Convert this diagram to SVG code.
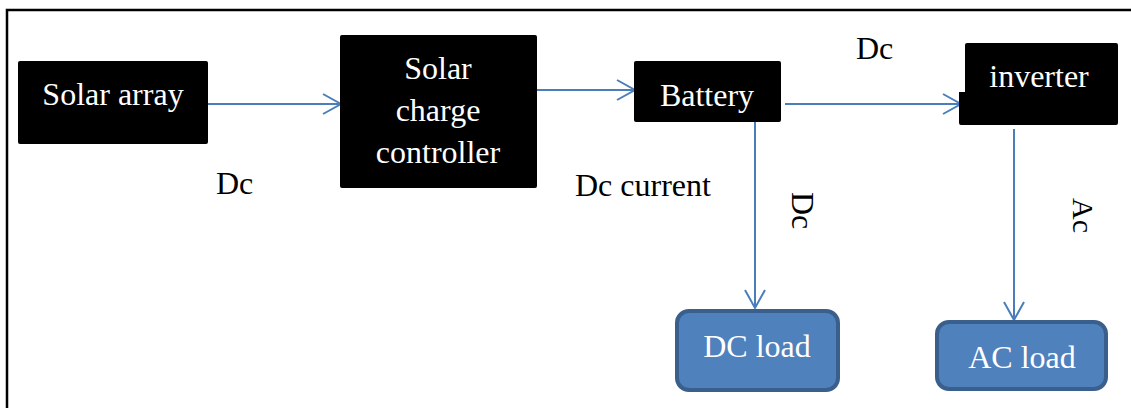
<svg xmlns="http://www.w3.org/2000/svg" width="1131" height="408" viewBox="0 0 1131 408">
<style>
.blk{fill:#000000;}
.t{font-family:"Liberation Serif","Times New Roman",serif;font-size:32px;}
.w{fill:#ffffff;}
.k{fill:#000000;}
.load{fill:#4F81BD;stroke:#3A5F8C;stroke-width:4;}
.conn{stroke:#4A7EBB;stroke-width:2;fill:none;}
</style>
<defs>
<marker id="arr" markerUnits="userSpaceOnUse" markerWidth="24" markerHeight="24" viewBox="-20 -12 24 24" refX="0" refY="0" orient="auto">
<path d="M-18,-10 L0,0 L-18,10" fill="none" stroke="#4A7EBB" stroke-width="2"/>
</marker>
</defs>
<rect width="1131" height="408" fill="#ffffff"/>
<g id="frame">
<path d="M1131,10 H7 V408" fill="none" stroke="#000000" stroke-width="2.5"/>
</g>
<g id="connectors">
<line class="conn" x1="207" y1="104" x2="341" y2="104" marker-end="url(#arr)"/>
<line class="conn" x1="536" y1="90" x2="635" y2="90" marker-end="url(#arr)"/>
<line class="conn" x1="785" y1="104" x2="961" y2="104" marker-end="url(#arr)"/>
<line class="conn" x1="755" y1="121" x2="755" y2="308" marker-end="url(#arr)"/>
<line class="conn" x1="1014" y1="129" x2="1014" y2="320" marker-end="url(#arr)"/>
</g>
<g id="solar-array">
<rect class="blk" x="18" y="61" width="190" height="83" rx="2"/>
<text class="t w" x="113" y="105" text-anchor="middle">Solar array</text>
</g>
<g id="charge-controller">
<rect class="blk" x="340" y="35" width="197" height="153" rx="2"/>
<text class="t w" x="438" y="79" text-anchor="middle">Solar</text>
<text class="t w" x="438" y="121" text-anchor="middle">charge</text>
<text class="t w" x="438" y="163" text-anchor="middle">controller</text>
</g>
<g id="battery">
<rect class="blk" x="634" y="61" width="147" height="61" rx="2"/>
<text class="t w" x="707" y="106" text-anchor="middle">Battery</text>
</g>
<g id="inverter">
<path class="blk" d="M967,43 H1116 Q1118,43 1118,45 V123 Q1118,125 1116,125 H961 Q959,125 959,123 V92 H965 V45 Q965,43 967,43 Z"/>
<text class="t w" x="1039" y="87" text-anchor="middle">inverter</text>
</g>
<g id="dc-load">
<rect class="load" x="677" y="311" width="161" height="79" rx="12"/>
<text class="t w" x="757" y="357" text-anchor="middle">DC load</text>
</g>
<g id="ac-load">
<rect class="load" x="937" y="322" width="169" height="67" rx="12"/>
<text class="t w" x="1022" y="368" text-anchor="middle">AC load</text>
</g>
<g id="labels">
<text class="t k" x="216" y="194">Dc</text>
<text class="t k" x="575" y="196">Dc current</text>
<text class="t k" x="856" y="59">Dc</text>
<text class="t k" transform="translate(792,192) rotate(90)">Dc</text>
<text class="t k" style="font-size:30px" transform="translate(1073,198) rotate(90)">Ac</text>
</g>
</svg>
